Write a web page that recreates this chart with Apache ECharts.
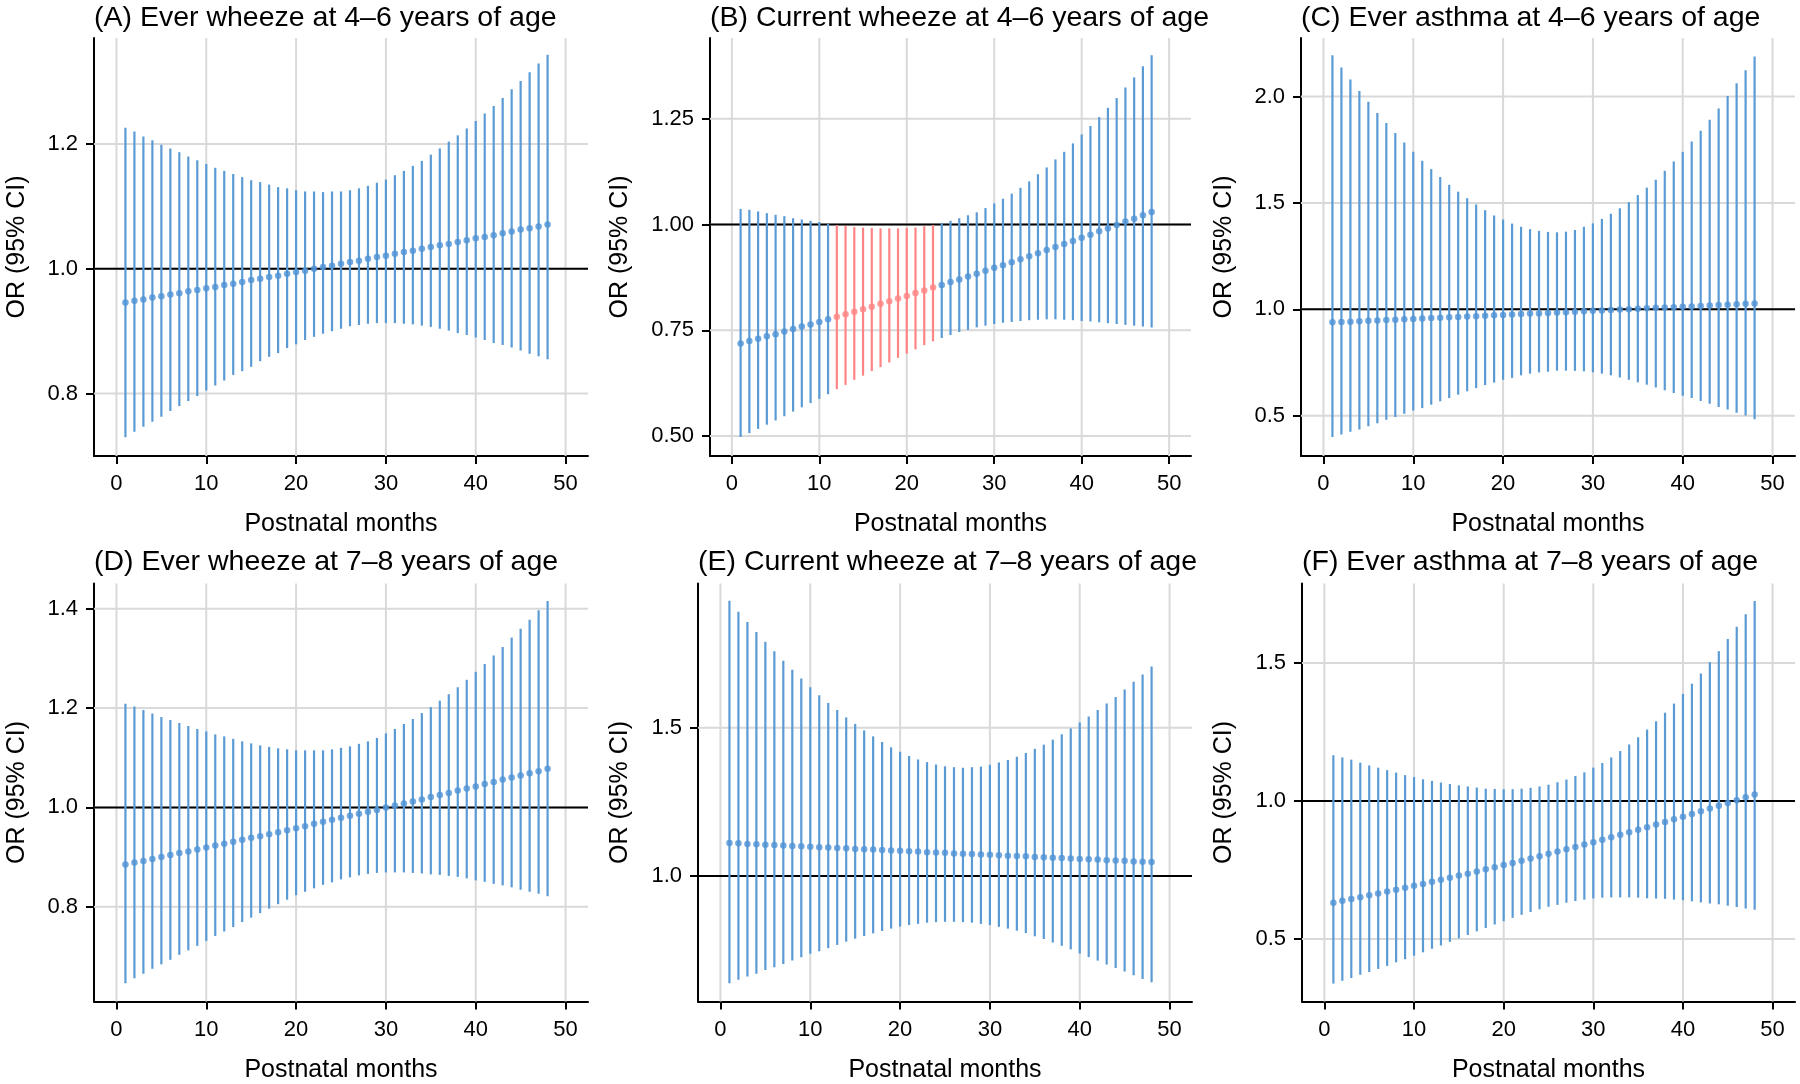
<!DOCTYPE html>
<html><head><meta charset="utf-8">
<script src="https://cdn.jsdelivr.net/npm/echarts@6/dist/echarts.min.js"></script>
<style>html,body{margin:0;padding:0;background:#fff}#c{width:1800px;height:1084px}</style>
</head><body><div id="c"></div>
<script>
// ---------------- DATA ----------------
const months = [1,2,3,4,5,6,7,8,9,10,11,12,13,14,15,16,17,18,19,20,21,22,23,24,25,26,27,28,29,30,31,32,33,34,35,36,37,38,39,40,41,42,43,44,45,46,47,48];
const xTicks = [0,10,20,30,40,50];

const estA = [0.946,0.949,0.951,0.954,0.956,0.959,0.961,0.964,0.966,0.969,0.971,0.974,0.976,0.979,0.982,0.984,0.987,0.989,0.992,0.995,0.997,1.000,1.003,1.005,1.008,1.011,1.013,1.016,1.019,1.021,1.024,1.027,1.029,1.032,1.035,1.038,1.040,1.043,1.046,1.049,1.051,1.054,1.057,1.060,1.063,1.065,1.068,1.071];
const upA  = [1.226,1.220,1.212,1.206,1.199,1.193,1.187,1.180,1.174,1.168,1.162,1.157,1.152,1.147,1.142,1.139,1.135,1.131,1.129,1.126,1.124,1.124,1.123,1.124,1.124,1.126,1.129,1.133,1.138,1.143,1.150,1.157,1.165,1.173,1.183,1.193,1.204,1.214,1.225,1.237,1.249,1.261,1.274,1.288,1.301,1.315,1.329,1.343];
const lowA = [0.730,0.739,0.747,0.755,0.763,0.772,0.780,0.788,0.796,0.805,0.813,0.821,0.830,0.836,0.843,0.852,0.859,0.865,0.873,0.879,0.886,0.891,0.896,0.900,0.904,0.908,0.910,0.912,0.913,0.913,0.913,0.912,0.911,0.909,0.907,0.904,0.901,0.897,0.894,0.890,0.886,0.881,0.878,0.874,0.869,0.864,0.860,0.855];
const yTicksA = [0.8,1.0,1.2];

const estB = [0.719,0.725,0.730,0.736,0.741,0.747,0.753,0.759,0.764,0.770,0.776,0.782,0.788,0.794,0.800,0.806,0.813,0.819,0.825,0.831,0.838,0.844,0.851,0.857,0.864,0.870,0.877,0.884,0.891,0.898,0.904,0.911,0.918,0.925,0.932,0.940,0.947,0.954,0.961,0.969,0.976,0.984,0.991,0.999,1.007,1.014,1.022,1.030];
const upB  = [1.037,1.035,1.031,1.027,1.023,1.020,1.015,1.012,1.009,1.006,1.002,0.999,0.997,0.994,0.993,0.992,0.991,0.991,0.991,0.992,0.993,0.996,0.999,1.004,1.009,1.015,1.022,1.029,1.039,1.050,1.061,1.073,1.087,1.102,1.119,1.135,1.154,1.172,1.192,1.213,1.233,1.254,1.276,1.299,1.324,1.348,1.374,1.400];
const lowB = [0.498,0.507,0.517,0.527,0.537,0.547,0.558,0.568,0.578,0.588,0.599,0.611,0.621,0.633,0.643,0.654,0.663,0.674,0.685,0.695,0.705,0.715,0.724,0.732,0.739,0.746,0.751,0.757,0.761,0.765,0.768,0.770,0.772,0.774,0.775,0.776,0.776,0.775,0.774,0.772,0.771,0.769,0.767,0.765,0.763,0.761,0.759,0.757];
const yTicksB = [0.50,0.75,1.00,1.25];
const sigMonthsB = [12,13,14,15,16,17,18,19,20,21,22,23];

const estC = [0.939,0.941,0.942,0.944,0.946,0.948,0.950,0.951,0.953,0.955,0.957,0.959,0.961,0.963,0.964,0.966,0.968,0.970,0.972,0.974,0.976,0.978,0.980,0.981,0.983,0.985,0.987,0.989,0.991,0.993,0.995,0.997,0.999,1.001,1.003,1.005,1.007,1.009,1.010,1.012,1.014,1.016,1.018,1.020,1.022,1.024,1.026,1.028];
const upC  = [2.194,2.136,2.080,2.026,1.975,1.923,1.876,1.829,1.784,1.740,1.698,1.659,1.622,1.585,1.553,1.522,1.493,1.466,1.441,1.422,1.403,1.388,1.377,1.369,1.364,1.362,1.365,1.373,1.388,1.404,1.425,1.449,1.475,1.504,1.537,1.572,1.609,1.651,1.695,1.740,1.789,1.839,1.891,1.944,2.002,2.062,2.123,2.188];
const lowC = [0.400,0.412,0.425,0.436,0.451,0.465,0.481,0.494,0.509,0.525,0.536,0.552,0.568,0.583,0.599,0.615,0.630,0.644,0.656,0.669,0.678,0.690,0.698,0.704,0.707,0.712,0.712,0.711,0.709,0.704,0.698,0.690,0.680,0.669,0.657,0.646,0.633,0.620,0.607,0.594,0.583,0.570,0.556,0.541,0.530,0.514,0.501,0.484];
const yTicksC = [0.5,1.0,1.5,2.0];

const estD = [0.885,0.889,0.892,0.896,0.900,0.904,0.908,0.911,0.915,0.919,0.923,0.927,0.931,0.935,0.939,0.942,0.946,0.950,0.954,0.958,0.962,0.967,0.971,0.975,0.979,0.983,0.987,0.991,0.995,1.000,1.004,1.008,1.012,1.016,1.021,1.025,1.029,1.034,1.038,1.042,1.047,1.051,1.056,1.060,1.064,1.069,1.073,1.078];
const upD  = [1.209,1.203,1.196,1.189,1.182,1.176,1.170,1.164,1.158,1.153,1.147,1.143,1.138,1.133,1.129,1.125,1.122,1.119,1.117,1.115,1.115,1.115,1.115,1.117,1.120,1.123,1.128,1.133,1.140,1.149,1.158,1.168,1.178,1.190,1.202,1.215,1.228,1.242,1.257,1.273,1.289,1.306,1.323,1.342,1.360,1.378,1.397,1.416];
const lowD = [0.646,0.656,0.665,0.675,0.684,0.693,0.703,0.712,0.721,0.731,0.741,0.750,0.759,0.769,0.778,0.787,0.796,0.805,0.814,0.823,0.830,0.837,0.844,0.849,0.855,0.859,0.863,0.866,0.868,0.869,0.869,0.869,0.868,0.867,0.865,0.864,0.862,0.860,0.857,0.853,0.850,0.846,0.843,0.839,0.834,0.830,0.826,0.821];
const yTicksD = [0.8,1.0,1.2,1.4];

const estE = [1.111,1.110,1.108,1.107,1.105,1.104,1.103,1.101,1.100,1.098,1.097,1.096,1.094,1.093,1.091,1.090,1.089,1.087,1.086,1.085,1.083,1.082,1.080,1.079,1.078,1.076,1.075,1.074,1.072,1.071,1.070,1.068,1.067,1.066,1.064,1.063,1.061,1.060,1.059,1.057,1.056,1.055,1.053,1.052,1.051,1.049,1.048,1.047];
const upE  = [1.929,1.892,1.857,1.823,1.790,1.758,1.726,1.696,1.666,1.637,1.610,1.584,1.560,1.535,1.513,1.491,1.471,1.452,1.434,1.419,1.405,1.393,1.384,1.376,1.370,1.367,1.365,1.367,1.369,1.375,1.383,1.391,1.402,1.415,1.429,1.443,1.460,1.478,1.498,1.518,1.538,1.560,1.582,1.604,1.629,1.655,1.680,1.707];
const lowE = [0.638,0.649,0.660,0.670,0.682,0.692,0.703,0.714,0.725,0.737,0.746,0.756,0.767,0.778,0.788,0.797,0.806,0.814,0.822,0.829,0.834,0.838,0.842,0.844,0.845,0.845,0.844,0.842,0.838,0.834,0.828,0.822,0.815,0.807,0.796,0.787,0.775,0.764,0.752,0.738,0.726,0.714,0.701,0.689,0.677,0.665,0.652,0.641];
const yTicksE = [1.0,1.5];

const estF = [0.632,0.639,0.645,0.652,0.659,0.665,0.672,0.679,0.686,0.693,0.700,0.708,0.715,0.722,0.730,0.737,0.745,0.753,0.760,0.768,0.776,0.784,0.792,0.800,0.809,0.817,0.825,0.834,0.843,0.851,0.860,0.869,0.878,0.887,0.896,0.905,0.915,0.924,0.934,0.943,0.953,0.963,0.973,0.983,0.993,1.003,1.014,1.024];
const upF  = [1.166,1.158,1.150,1.139,1.129,1.121,1.112,1.103,1.094,1.087,1.079,1.073,1.067,1.062,1.057,1.053,1.049,1.045,1.044,1.043,1.043,1.045,1.048,1.053,1.059,1.068,1.078,1.091,1.104,1.121,1.138,1.158,1.181,1.205,1.231,1.259,1.289,1.320,1.353,1.388,1.425,1.462,1.503,1.543,1.587,1.631,1.677,1.725];
const lowF = [0.339,0.349,0.359,0.371,0.381,0.392,0.403,0.416,0.427,0.440,0.452,0.465,0.477,0.490,0.503,0.515,0.528,0.540,0.553,0.565,0.577,0.588,0.598,0.608,0.617,0.624,0.632,0.638,0.643,0.647,0.650,0.651,0.651,0.651,0.650,0.648,0.647,0.646,0.643,0.641,0.637,0.633,0.629,0.626,0.621,0.616,0.611,0.606];
const yTicksF = [0.5,1.0,1.5];

const titles = [
  '(A) Ever wheeze at 4\u20136 years of age',
  '(B) Current wheeze at 4\u20136 years of age',
  '(C) Ever asthma at 4\u20136 years of age',
  '(D) Ever wheeze at 7\u20138 years of age',
  '(E) Current wheeze at 7\u20138 years of age',
  '(F) Ever asthma at 7\u20138 years of age'
];
const xName = 'Postnatal months';
const yName = 'OR (95% CI)';

// ---------------- LAYOUT / STYLE ----------------
const FONT = '"Liberation Sans", Arial, Helvetica, sans-serif';
const BLUE = '#5b9bd5', BLUE_DOT = '#4f92d4', RED = '#ff8585';
const X_MIN = -2.5, X_MAX = 52.5;

const panels = [
  {est:estA, low:lowA, up:upA, ticks:yTicksA, dec:1, yMin:0.700, yMax:1.370, sig:[], g:{left:94,  top:38,    width:494, height:418}, nameGap:64, titleTop:4},
  {est:estB, low:lowB, up:upB, ticks:yTicksB, dec:2, yMin:0.453, yMax:1.441, sig:sigMonthsB, g:{left:710, top:38, width:481, height:418}, nameGap:77, titleTop:4},
  {est:estC, low:lowC, up:upC, ticks:yTicksC, dec:1, yMin:0.311, yMax:2.275, sig:[], g:{left:1301, top:38,    width:494, height:418}, nameGap:64, titleTop:4},
  {est:estD, low:lowD, up:upD, ticks:yTicksD, dec:1, yMin:0.609, yMax:1.451, sig:[], g:{left:94,  top:583.5, width:494, height:418}, nameGap:64, titleTop:548},
  {est:estE, low:lowE, up:upE, ticks:yTicksE, dec:1, yMin:0.576, yMax:1.987, sig:[], g:{left:698, top:583.5, width:494, height:418}, nameGap:65, titleTop:548},
  {est:estF, low:lowF, up:upF, ticks:yTicksF, dec:1, yMin:0.274, yMax:1.788, sig:[], g:{left:1302, top:583.5, width:493, height:418}, nameGap:65, titleTop:548}
];

const option = {
  backgroundColor: '#ffffff',
  animation: false,
  title: [], grid: [], xAxis: [], yAxis: [], series: []
};

panels.forEach((p, i) => {
  option.grid.push(Object.assign({containLabel: false}, p.g));
  option.title.push({
    text: titles[i], left: p.g.left, top: p.titleTop, padding: 0,
    textStyle: {fontFamily: FONT, fontSize: 28.5, fontWeight: 'normal', color: '#000'}
  });
  const axisLine = {show: true, onZero: false, lineStyle: {color: '#000', width: 2}};
  option.xAxis.push({
    type: 'value', gridIndex: i, min: X_MIN, max: X_MAX,
    axisLine: axisLine,
    axisTick: {show: true, length: 8, customValues: xTicks, lineStyle: {color: '#000', width: 2}},
    axisLabel: {customValues: xTicks, fontFamily: FONT, fontSize: 22, color: '#000', margin: 17},
    splitLine: {show: false},
    name: xName, nameLocation: 'middle', nameGap: 56,
    nameTextStyle: {fontFamily: FONT, fontSize: 25, color: '#000'}
  });
  option.yAxis.push({
    type: 'value', gridIndex: i, min: p.yMin, max: p.yMax,
    axisLine: axisLine,
    axisTick: {show: true, length: 8, customValues: p.ticks, lineStyle: {color: '#000', width: 2}},
    axisLabel: {customValues: p.ticks, fontFamily: FONT, fontSize: 22, color: '#000', margin: 16,
                formatter: v => Number(v).toFixed(p.dec)},
    splitLine: {show: false},
    name: yName, nameLocation: 'middle', nameGap: p.nameGap,
    nameTextStyle: {fontFamily: FONT, fontSize: 25, color: '#000'}
  });

  // grid lines (drawn through the axes' scales)
  const gl = p.ticks.map(v => [X_MIN, v, 0]).concat(xTicks.map(v => [v, p.yMin, 1]));
  option.series.push({
    type: 'custom', xAxisIndex: i, yAxisIndex: i, z: 1, silent: true,
    data: gl,
    renderItem: (params, api) => {
      const cs = params.coordSys;
      if (api.value(2) === 1) {
        const x = api.coord([api.value(0), p.yMin])[0];
        return {type: 'line', shape: {x1: x, y1: cs.y, x2: x, y2: cs.y + cs.height},
                style: {stroke: '#d9d9d9', lineWidth: 2}};
      }
      const y = api.coord([X_MIN, api.value(1)])[1];
      return {type: 'line', shape: {x1: cs.x, y1: y, x2: cs.x + cs.width, y2: y},
              style: {stroke: '#d9d9d9', lineWidth: 2}};
    }
  });
  // reference line at OR = 1
  option.series.push({
    type: 'custom', xAxisIndex: i, yAxisIndex: i, z: 2, silent: true,
    data: [[X_MIN, 1]],
    renderItem: (params, api) => {
      const cs = params.coordSys;
      const y = api.coord([X_MIN, api.value(1)])[1];
      return {type: 'line', shape: {x1: cs.x, y1: y, x2: cs.x + cs.width, y2: y},
              style: {stroke: '#000', lineWidth: 2}};
    }
  });
  // CI bars
  option.series.push({
    type: 'custom', xAxisIndex: i, yAxisIndex: i, z: 3, silent: true,
    encode: {x: 0, y: [1, 2]},
    data: months.map((m, j) => [m, p.low[j], p.up[j], p.sig.includes(m) ? 1 : 0]),
    renderItem: (params, api) => {
      const a = api.coord([api.value(0), api.value(1)]);
      const b = api.coord([api.value(0), api.value(2)]);
      return {type: 'line', shape: {x1: a[0], y1: a[1], x2: b[0], y2: b[1]},
              style: {stroke: api.value(3) === 1 ? RED : BLUE, lineWidth: 2.2}};
    }
  });
  // point estimates
  option.series.push({
    type: 'scatter', xAxisIndex: i, yAxisIndex: i, z: 4, silent: true,
    symbolSize: 6.5,
    data: months.map((m, j) => [m, p.est[j], p.sig.includes(m) ? 1 : 0]),
    itemStyle: {color: prm => prm.data[2] === 1 ? RED : BLUE_DOT}
  });
});

const chart = echarts.init(document.getElementById('c'), null, {renderer: 'canvas'});
chart.setOption(option);
</script>
</body></html>
